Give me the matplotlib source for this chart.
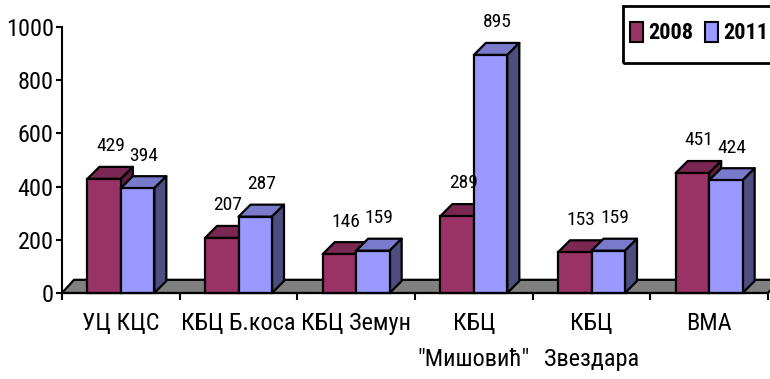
import matplotlib
matplotlib.use("Agg")
import matplotlib.pyplot as plt
from matplotlib.patches import Polygon, Rectangle

# ---- data ----
categories = ["УЦ КЦС", "КБЦ Б.коса", "КБЦ Земун", "КБЦ\n\"Мишовић\"", "КБЦ\nЗвездара", "ВМА"]
series_names = ["2008", "2011"]
values_2008 = [429, 207, 146, 289, 153, 451]
values_2011 = [394, 287, 159, 895, 159, 424]
y_ticks = [0, 200, 400, 600, 800, 1000]

# ---- style ----
plt.rcParams["font.family"] = ["Roboto Condensed", "DejaVu Sans"]

front = ["#993366", "#9999FF"]
top = ["#7A2851", "#7A7ACC"]
side = ["#5C1E3D", "#4D4D80"]
floor_c = "#808080"
EW = 1.6

W, H = 770, 379
fig = plt.figure(figsize=(W / 100, H / 100), dpi=100)
x0, x1, y0, y1 = 62, 768, 293, 27
ax = fig.add_axes([x0 / W, 1 - y0 / H, (x1 - x0) / W, (y0 - y1) / H])
n = len(categories)
ax.set_xlim(0, n)
ax.set_ylim(0, 1000)

px_x = n / (x1 - x0)          # data units per pixel (x)
px_y = 1000 / (y0 - y1)       # data units per pixel (y)
ddx, ddy = 12 * px_x, 12 * px_y
bw = 33.5 * px_x

# floor
floor = Polygon([(0, 0), (n, 0), (n + ddx, ddy * 1.1), (ddx, ddy * 1.1)], closed=True,
                facecolor=floor_c, edgecolor="black", lw=EW, clip_on=False, zorder=1)
ax.add_patch(floor)

series = [values_2008, values_2011]
for s, vals in enumerate(series):
    xs = [i + 0.5 - bw + s * bw for i in range(n)]
    bars = ax.bar(xs, vals, width=bw, align="edge", color=front[s], edgecolor="black",
                  lw=EW, zorder=3 + s * 2, clip_on=False)
    for b, v in zip(bars, vals):
        xl, xr = b.get_x(), b.get_x() + b.get_width()
        ax.add_patch(Polygon([(xl, v), (xr, v), (xr + ddx, v + ddy), (xl + ddx, v + ddy)],
                             closed=True, facecolor=top[s], edgecolor="black", lw=EW,
                             zorder=2 + s * 2, clip_on=False, joinstyle="round"))
        ax.add_patch(Polygon([(xr, 0), (xr + ddx, ddy), (xr + ddx, v + ddy), (xr, v)],
                             closed=True, facecolor=side[s], edgecolor="black", lw=EW,
                             zorder=2 + s * 2, clip_on=False, joinstyle="round"))
        ax.annotate(str(v), (xl + bw / 2, v), xytext=(4.5, 23.5), textcoords="offset points",
                    ha="center", va="center", fontsize=14, zorder=10)

# axes styling
for sp in ["top", "right"]:
    ax.spines[sp].set_visible(False)
for sp in ["left", "bottom"]:
    ax.spines[sp].set_linewidth(1.5)
    ax.spines[sp].set_zorder(8)
ax.set_yticks(y_ticks)
ax.set_yticklabels([str(t) for t in y_ticks], fontsize=17.5)
ax.tick_params(axis="y", direction="out", length=4, width=1.5, pad=2)
ax.set_xticks(range(n + 1))
ax.set_xticklabels([])
ax.set_xticks([i + 0.5 for i in range(n)], minor=True)
ax.set_xticklabels(categories, minor=True, fontsize=17.5, linespacing=1.7)
ax.tick_params(axis="x", which="major", direction="out", length=5, width=1.5)
ax.tick_params(axis="x", which="minor", length=0, pad=14)
ax.patch.set_alpha(0)

# legend (drawn manually, clipped by figure edge like the original)
tf = fig.transFigure
def fx(p): return p / W
def fy(p): return 1 - p / H
fig.add_artist(Rectangle((fx(623), fy(63)), fx(200), 57 / H, transform=tf, fill=False,
                         edgecolor="black", lw=2, clip_on=False))
leg_x = [630, 705]
for s, name in enumerate(series_names):
    fig.add_artist(Rectangle((fx(leg_x[s]), fy(42)), 13 / W, 20 / H, transform=tf,
                             facecolor=front[s], edgecolor="black", lw=1.5))
    fig.text(fx(leg_x[s] + 18), fy(33), name, fontsize=16, fontweight="bold",
             ha="left", va="center")

fig.savefig("out.png", dpi=100)
